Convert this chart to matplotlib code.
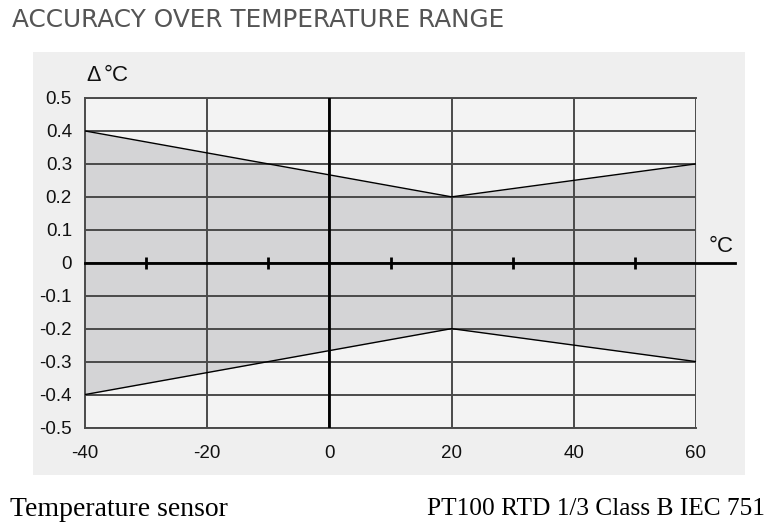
import numpy as np
import matplotlib.pyplot as plt
from matplotlib.patches import Rectangle

plt.rcParams['axes.unicode_minus'] = False

# tolerance band
temp = [-40, 20, 60]
upper = [0.4, 0.2, 0.3]
lower = [-0.4, -0.2, -0.3]
x_ticks = [-40, -20, 0, 20, 40, 60]
y_ticks = [0.5, 0.4, 0.3, 0.2, 0.1, 0, -0.1, -0.2, -0.3, -0.4, -0.5]
y_labels = ['0.5', '0.4', '0.3', '0.2', '0.1', '0', '-0.1', '-0.2', '-0.3', '-0.4', '-0.5']
minor_marks = [-30, -10, 10, 30, 50]

W, H = 771, 523
fig = plt.figure(figsize=(W / 100, H / 100), dpi=100)
fig.patch.set_facecolor('white')

# light gray panel behind the chart
fig.patches.append(Rectangle((33 / W, 1 - 475 / H), (745 - 33) / W, (475 - 52) / H,
                             transform=fig.transFigure, facecolor='#efefef',
                             edgecolor='none', zorder=-5))

ax = fig.add_axes([85 / W, 1 - 427.5 / H, (696 - 85) / W, (427.5 - 98) / H])
ax.set_zorder(1)
ax.set_facecolor('#f3f3f3')
ax.set_xlim(-40, 60)
ax.set_ylim(-0.5, 0.5)

ax.fill_between(temp, lower, upper, color='#d4d4d6', zorder=1, linewidth=0)
ax.plot(temp, upper, color='black', lw=1.0, zorder=3)
ax.plot(temp, lower, color='black', lw=1.0, zorder=3)

for x in x_ticks[1:]:
    ax.axvline(x, color='#4a4a4a', lw=1.4, zorder=2)
for y in y_ticks:
    ax.axhline(y, color='#4a4a4a', lw=1.4, zorder=2)
ax.axvline(0, color='black', lw=2.0, zorder=4)

# horizontal zero axis running past the plot
ax.plot([-40, 66.4], [0, 0], color='black', lw=2.0, zorder=4, clip_on=False)
ax.plot(minor_marks, [0] * len(minor_marks), ls='none', marker='|',
        markersize=9, markeredgewidth=2, color='black', zorder=5)

for s in ['left', 'top', 'right', 'bottom']:
    ax.spines[s].set_color('#4a4a4a')
    ax.spines[s].set_linewidth(1.4)
ax.spines['right'].set_visible(False)

ax.set_xticks(x_ticks)
ax.set_yticks(y_ticks)
ax.set_yticklabels(y_labels)
ax.tick_params(length=0, labelsize=13.5, labelcolor='#111111', labelfontfamily='Liberation Sans')
ax.tick_params(axis='y', pad=9.4)
ax.tick_params(axis='x', pad=12.6)

ax.text(-39.8, 0.552, '\u0394', fontsize=15.5, family='Liberation Sans',
        ha='left', va='baseline', color='#111111', clip_on=False)
ax.text(-36.9, 0.552, '\u00b0C', fontsize=16, family='Liberation Sans',
        ha='left', va='baseline', color='#111111', clip_on=False)
ax.text(62, 0.034, '\u00b0C', fontsize=16, family='Liberation Sans',
        ha='left', va='baseline', color='#111111', clip_on=False)

fig.text(12 / W, 1 - 20 / H, 'ACCURACY OVER TEMPERATURE RANGE', fontsize=17.8,
         family='DejaVu Sans', color='#555555', va='center', ha='left')
fig.text(10 / W, 1 - 509 / H, 'Temperature sensor', fontsize=20,
         family='Liberation Serif', color='black', va='center', ha='left')
fig.text(765 / W, 1 - 509 / H, 'PT100 RTD 1/3 Class B IEC 751', fontsize=18.3,
         family='Liberation Serif', color='black', va='center', ha='right')

fig.savefig('out.png', dpi=100)
